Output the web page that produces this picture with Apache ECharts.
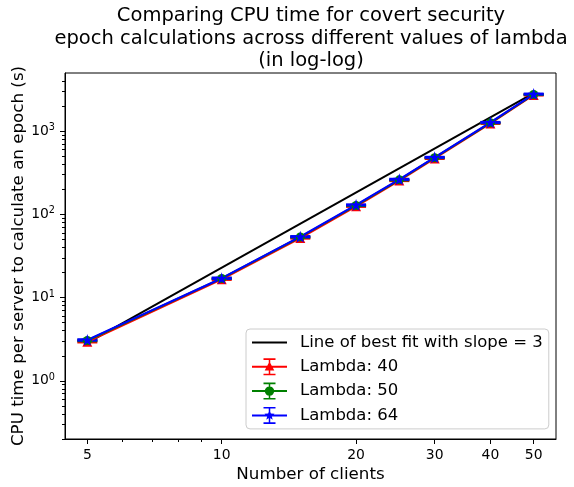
<!DOCTYPE html>
<html><head><meta charset="utf-8">
<script src="https://cdn.jsdelivr.net/npm/echarts@6/dist/echarts.min.js"></script>
<style>html,body{margin:0;padding:0;background:#fff}#c{width:574px;height:487px}</style>
</head><body><div id="c"></div>
<script>
const clients = [5, 10, 15, 20, 25, 30, 40, 50];
const lambda40 = [2.95, 16.6, 52, 125, 255, 470, 1240, 2720];
const lambda40Err = [0.06, 0.3, 0.9, 2, 4, 7, 18, 40];
const lambda50 = [3.05, 17.0, 53.5, 128, 260, 480, 1260, 2760];
const lambda50Err = [0.06, 0.3, 0.9, 2, 4, 7, 18, 40];
const lambda64 = [3.1, 17.1, 54, 130, 264, 485, 1275, 2790];
const lambda64Err = [0.06, 0.3, 0.9, 2, 4, 7, 18, 40];
const fitX = [5, 50];
const fitY = [2.86, 2860];
const xTickLabels = [5, 10, 20, 30, 40, 50];
const xMinorTicks = [6, 7, 8, 9];
const yTickLabels = [1, 10, 100, 1000];
const yMinorTicks = [0.2,0.3,0.4,0.5,0.6,0.7,0.8,0.9,2,3,4,5,6,7,8,9,20,30,40,50,60,70,80,90,200,300,400,500,600,700,800,900,2000,3000,4000];

const FONT = 'DejaVu Sans';
const X_MIN = 4.456, X_MAX = 56.1, Y_MIN = 0.2, Y_MAX = 5000;

const pathLine = 'path://M0 0H35V2H0Z';
const base = 'M0 7.5H35V9.5H0Z M16.75 0H18.25V17H16.75Z M11.5 0H23.5V1.6H11.5Z M11.5 15.4H23.5V17H11.5Z ';
const pathTri = 'path://' + base + 'M17.5 3.3L22.3 12.2L12.7 12.2Z';
const pathCircle = 'path://' + base + 'M22.2 8.5A4.7 4.7 0 1 1 12.8 8.5A4.7 4.7 0 1 1 22.2 8.5Z';
const pathStar = 'path://' + base + 'M17.5 3.2L18.9 6.7L22.6 6.8L19.7 9.2L20.7 12.8L17.5 10.7L14.3 12.8L15.3 9.2L12.4 6.8L16.1 6.7Z';
const starSymbol = 'path://M50 0L61.8 35.4L100 36.2L69.1 58.8L80.9 95.1L50 72.7L19.1 95.1L30.9 58.8L0 36.2L38.2 35.4Z';

function pairs(xs, ys) { return xs.map((x, i) => [x, ys[i]]); }
function errData(ys, es) { return clients.map((x, i) => [x, ys[i], ys[i] - es[i], ys[i] + es[i]]); }
function errRender(color) {
  return function (params, api) {
    const x = api.value(0), lo = api.value(2), hi = api.value(3);
    const pLo = api.coord([x, lo]), pHi = api.coord([x, hi]);
    const cap = 10;
    const style = { stroke: color, lineWidth: 2, fill: null };
    return { type: 'group', children: [
      { type: 'line', shape: { x1: pLo[0], y1: pLo[1], x2: pHi[0], y2: pHi[1] }, style },
      { type: 'line', shape: { x1: pLo[0] - cap, y1: pLo[1], x2: pLo[0] + cap, y2: pLo[1] }, style },
      { type: 'line', shape: { x1: pHi[0] - cap, y1: pHi[1], x2: pHi[0] + cap, y2: pHi[1] }, style }
    ]};
  };
}
function lambdaSeries(name, ys, es, color, symbol, size) {
  return [
    { name, type: 'line', xAxisIndex: 0, yAxisIndex: 0, data: pairs(clients, ys),
      symbol, symbolSize: size, showSymbol: true, color,
      lineStyle: { color, width: 2 }, itemStyle: { color, borderWidth: 0 }, animation: false, z: 3 },
    { name: name + ' err', type: 'custom', xAxisIndex: 0, yAxisIndex: 0, data: errData(ys, es),
      encode: { x: 0, y: 1 }, renderItem: errRender(color), animation: false, z: 3, silent: true }
  ];
}

const chart = echarts.init(document.getElementById('c'), null, { renderer: 'canvas' });
const axisLine = { show: true, lineStyle: { color: '#000', width: 1 } };
chart.setOption({
  animation: false,
  backgroundColor: '#fff',
  textStyle: { fontFamily: FONT },
  title: {
    text: 'Comparing CPU time for covert security\nepoch calculations across different values of lambda\n(in log-log)',
    left: 311, top: 5, textAlign: 'center', padding: 0,
    textStyle: { fontFamily: FONT, fontSize: 19.5, fontWeight: 'normal', color: '#000', lineHeight: 22.5 }
  },
  grid: { left: 65, right: 18, top: 73, bottom: 48, containLabel: false, outerBoundsMode: 'none',
    show: true, borderColor: '#000', borderWidth: 1, backgroundColor: 'transparent' },
  legend: {
    orient: 'vertical', left: 246, top: 329, selectedMode: false,
    itemWidth: 35, itemHeight: 17, itemGap: 7.3,
    padding: [5, 6, 5, 6],
    backgroundColor: 'rgba(255,255,255,0.85)', borderColor: '#cccccc', borderWidth: 1, borderRadius: 4,
    textStyle: { fontFamily: FONT, fontSize: 16.5, color: '#000', padding: [0, 0, 0, 8] },
    itemStyle: { borderWidth: 0 },
    data: [
      { name: 'Line of best fit with slope = 3', icon: pathLine },
      { name: 'Lambda: 40', icon: pathTri },
      { name: 'Lambda: 50', icon: pathCircle },
      { name: 'Lambda: 64', icon: pathStar }
    ]
  },
  xAxis: [
    { type: 'log', logBase: 10, min: X_MIN, max: X_MAX,
      name: 'Number of clients', nameLocation: 'middle', nameGap: 27, nameMoveOverlap: false,
      nameTextStyle: { fontFamily: FONT, fontSize: 16.7, color: '#000' },
      axisLine, splitLine: { show: false },
      axisTick: { show: true, length: 5, customValues: xTickLabels, lineStyle: { color: '#000' } },
      axisLabel: { show: true, customValues: xTickLabels, margin: 9, fontFamily: FONT, fontSize: 13.9, color: '#000',
        formatter: v => String(Math.round(v)) } },
    { type: 'log', logBase: 10, min: X_MIN, max: X_MAX, position: 'bottom',
      axisLine: { show: false }, splitLine: { show: false },
      axisTick: { show: true, length: 3, customValues: xMinorTicks, lineStyle: { color: '#000' } },
      axisLabel: { show: false } }
  ],
  yAxis: [
    { type: 'log', logBase: 10, min: Y_MIN, max: Y_MAX,
      name: 'CPU time per server to calculate an epoch (s)', nameLocation: 'middle', nameGap: 38, nameMoveOverlap: false,
      nameTextStyle: { fontFamily: FONT, fontSize: 16.7, color: '#000' },
      axisLine, splitLine: { show: false },
      axisTick: { show: true, length: 5, customValues: yTickLabels, lineStyle: { color: '#000' } },
      axisLabel: { show: true, customValues: yTickLabels, margin: 10, fontFamily: FONT, color: '#000',
        formatter: v => '{b|10}{s|' + Math.round(Math.log10(v)) + '}',
        rich: { b: { fontFamily: FONT, fontSize: 13.9, color: '#000' },
                s: { fontFamily: FONT, fontSize: 9.7, color: '#000', verticalAlign: 'top', padding: [0, 0, 7, 0] } } } },
    { type: 'log', logBase: 10, min: Y_MIN, max: Y_MAX, position: 'left',
      axisLine: { show: false }, splitLine: { show: false },
      axisTick: { show: true, length: 3, customValues: yMinorTicks, lineStyle: { color: '#000' } },
      axisLabel: { show: false } }
  ],
  series: [
    { name: 'Line of best fit with slope = 3', type: 'line', data: pairs(fitX, fitY), symbol: 'none',
      color: '#000', lineStyle: { color: '#000', width: 2 }, itemStyle: { color: '#000' }, z: 2, animation: false },
    ...lambdaSeries('Lambda: 40', lambda40, lambda40Err, '#ff0000', 'triangle', 10),
    ...lambdaSeries('Lambda: 50', lambda50, lambda50Err, '#008000', 'circle', 9),
    ...lambdaSeries('Lambda: 64', lambda64, lambda64Err, '#0000ff', starSymbol, 12)
  ]
});
</script></body></html>
